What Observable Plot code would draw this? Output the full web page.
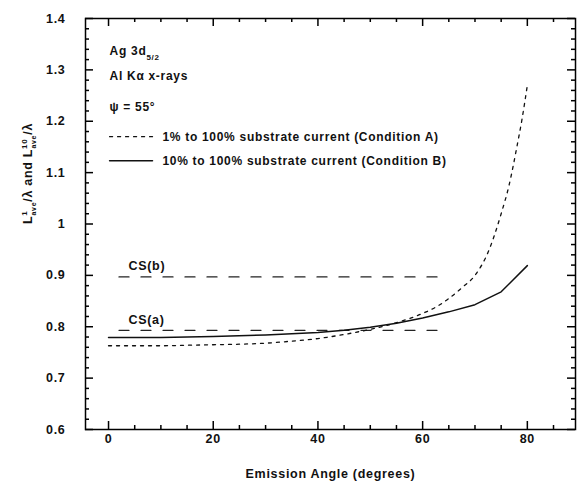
<!DOCTYPE html>
<html><head><meta charset="utf-8">
<script src="https://cdn.jsdelivr.net/npm/d3@7"></script>
<script src="https://cdn.jsdelivr.net/npm/@observablehq/plot@0.6"></script>
<style>
body{margin:0;background:#fff;}
svg text{font-family:Arial,"Liberation Sans",sans-serif;font-weight:bold;letter-spacing:0.7px;}
</style></head><body><div id="chart"></div>
<script>
const angleA = [0, 5, 10, 15, 20, 25, 30, 35, 40, 45, 50, 55, 60, 62.5, 65, 67.5, 70, 72.5, 75, 76.5, 78, 79, 80];
const condA  = [0.763, 0.763, 0.763, 0.764, 0.765, 0.766, 0.768, 0.772, 0.777, 0.785, 0.795, 0.808, 0.826, 0.838, 0.855, 0.876, 0.900, 0.945, 1.020, 1.075, 1.150, 1.205, 1.270];
const angleB = [0, 10, 20, 30, 40, 45, 50, 55, 60, 65, 70, 75, 80];
const condB  = [0.779, 0.779, 0.781, 0.784, 0.789, 0.793, 0.799, 0.807, 0.817, 0.829, 0.843, 0.868, 0.919];
const csNames = ["CS(b)", "CS(a)"];
const csValues = [0.897, 0.793];
const csRange = [2, 63];
const xTickLabels = [0, 20, 40, 60, 80];
const xMinorTicks = [5, 10, 15, 25, 30, 35, 45, 50, 55, 65, 70, 75, 85];
const yTickValues = [0.6, 0.7, 0.8, 0.9, 1.0, 1.1, 1.2, 1.3, 1.4];
const yTickLabels = ["0.6", "0.7", "0.8", "0.9", "1", "1.1", "1.2", "1.3", "1.4"];
const yMinorTicks = [0.62, 0.64, 0.66, 0.68, 0.72, 0.74, 0.76, 0.78, 0.82, 0.84, 0.86, 0.88, 0.92, 0.94, 0.96, 0.98,
  1.02, 1.04, 1.06, 1.08, 1.12, 1.14, 1.16, 1.18, 1.22, 1.24, 1.26, 1.28, 1.32, 1.34, 1.36, 1.38];
const legendLabels = ["1% to 100% substrate current (Condition A)", "10% to 100% substrate current (Condition B)"];
const infoLines = ["Ag 3d5/2", "Al Kα x-rays", "ψ = 55°"];

const W = 582, H = 481, mL = 85, mR = 7, mT = 18, mB = 52;
const fw = W - mL - mR, fh = H - mT - mB;
const xDom = [-4.4, 89.2], yDom = [0.6, 1.4];

const dataA = angleA.map((a, i) => ({x: a, y: condA[i]}));
const dataB = angleB.map((a, i) => ({x: a, y: condB[i]}));
const csData = csValues.flatMap((v, i) => [{k: i, x: csRange[0], y: v}, {k: i, x: csRange[1], y: v}]);

const infoY = [1.337, 1.287, 1.228];
const legY = [1.170, 1.123];

const tk = {stroke: "black", strokeWidth: 1.5};
const chart = Plot.plot({
  width: W, height: H,
  marginLeft: mL, marginRight: mR, marginTop: mT, marginBottom: mB,
  x: {domain: xDom, axis: null},
  y: {domain: yDom, axis: null},
  marks: [
    Plot.frame({stroke: "black", strokeWidth: 1.5, fill: "none"}),
    Plot.tickX(xTickLabels, {x: d => d, insetTop: fh - 8, ...tk}),
    Plot.tickX(xTickLabels, {x: d => d, insetBottom: fh - 8, ...tk}),
    Plot.tickX(xMinorTicks, {x: d => d, insetTop: fh - 4, ...tk}),
    Plot.tickX(xMinorTicks, {x: d => d, insetBottom: fh - 4, ...tk}),
    Plot.tickY(yTickValues, {y: d => d, insetRight: fw - 8, ...tk}),
    Plot.tickY(yTickValues, {y: d => d, insetLeft: fw - 8, ...tk}),
    Plot.tickY(yMinorTicks, {y: d => d, insetRight: fw - 4, ...tk}),
    Plot.tickY(yMinorTicks, {y: d => d, insetLeft: fw - 4, ...tk}),
    // tick labels
    Plot.text(xTickLabels, {x: d => d, frameAnchor: "bottom", dy: 13, text: d => String(d), fontSize: 12.5, fill: "#111"}),
    Plot.text(yTickValues, {y: d => d, frameAnchor: "left", dx: -20, textAnchor: "end", text: (d, i) => yTickLabels[i], fontSize: 12.5, fill: "#111"}),
    Plot.text(["Emission Angle (degrees)"], {frameAnchor: "bottom", dy: 48, text: d => d, fontSize: 12.5, fill: "#111"}),
    Plot.text(["YLABEL"], {frameAnchor: "left", dx: -58, rotate: -90, text: d => d, fontSize: 12.5, fill: "#111"}),
    // CS lines
    Plot.line(csData, {x: "x", y: "y", z: "k", stroke: "#222", strokeWidth: 1.3, strokeDasharray: "10,12"}),
    Plot.text(csNames, {x: 3.8, y: (d, i) => csValues[i] + 0.021, text: d => d, textAnchor: "start", fontSize: 12.5, fill: "#111"}),
    // curves
    Plot.line(dataA, {x: "x", y: "y", stroke: "#111", strokeWidth: 1.3, strokeDasharray: "3,5", curve: "monotone-x"}),
    Plot.line(dataB, {x: "x", y: "y", stroke: "#111", strokeWidth: 1.5}),
    // info text
    Plot.text(infoLines, {x: 0.2, y: (d, i) => infoY[i], text: d => d, textAnchor: "start", fontSize: 12, fill: "#111"}),
    // legend
    Plot.line([{x: 0.2, y: legY[0]}, {x: 8.4, y: legY[0]}], {x: "x", y: "y", stroke: "#111", strokeWidth: 1.3, strokeDasharray: "3,5"}),
    Plot.line([{x: 0.2, y: legY[1]}, {x: 8.4, y: legY[1]}], {x: "x", y: "y", stroke: "#111", strokeWidth: 1.5}),
    Plot.text(legendLabels, {x: 10.3, y: (d, i) => legY[i], text: d => d, textAnchor: "start", fontSize: 12, fill: "#111"})
  ]
});
document.getElementById("chart").appendChild(chart);

// rich text: subscripts / superscripts
d3.select(chart).selectAll("text").each(function() {
  const t = d3.select(this);
  const s = t.text();
  if (s === "Ag 3d5/2") {
    t.text("");
    t.append("tspan").text("Ag 3d");
    t.append("tspan").attr("dy", 5).attr("font-size", 8).text("5/2");
  } else if (s === "YLABEL") {
    t.text("");
    t.append("tspan").text("L");
    t.append("tspan").attr("dy", -5).attr("font-size", 8).text("1");
    t.append("tspan").attr("dy", 9).attr("dx", -5).attr("font-size", 7).text("ave");
    t.append("tspan").attr("dy", -4).text("/λ and L");
    t.append("tspan").attr("dy", -5).attr("font-size", 8).text("10");
    t.append("tspan").attr("dy", 9).attr("dx", -10).attr("font-size", 7).text("ave");
    t.append("tspan").attr("dy", -4).text("/λ");
  }
});
</script></body></html>
